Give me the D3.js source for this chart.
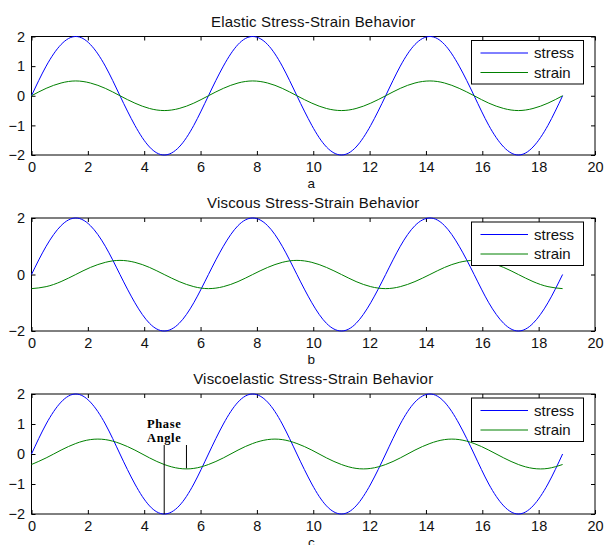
<!DOCTYPE html>
<meta charset="utf-8">
<style>
body { margin: 0; background: #fff; }
svg { font-family: "Liberation Sans", Arial, sans-serif; }
.title { font-size: 15px; fill: #111; letter-spacing: 0.2px; }
.caption { font-size: 13.5px; fill: #111; }
.tick text { font-size: 14.5px; fill: #111; font-family: "Liberation Sans", Arial, sans-serif; }
.tick line { stroke: #000; }
.frame { fill: none; stroke: #000; stroke-width: 1px; }
.legend rect { fill: #fff; stroke: #000; }
.legend text { font-size: 15px; fill: #111; }
.phase text { font-family: "Liberation Serif", "Times New Roman", serif; font-weight: bold; font-size: 12.5px; letter-spacing: 0.6px; }
</style>
<body>
<script src="https://cdn.jsdelivr.net/npm/d3@7"></script>
<script>
// sample times
var t = [0, 0.52, 1.05, 1.57, 2.09, 2.62, 3.14, 3.67, 4.19, 4.71, 5.24, 5.76,
  6.28, 6.81, 7.33, 7.85, 8.38, 8.9, 9.42, 9.95, 10.47, 11.0, 11.52, 12.04,
  12.57, 13.09, 13.61, 14.14, 14.66, 15.18, 15.71, 16.23, 16.76, 17.28, 17.8, 18.33,
  18.85];

var stress = [0, 1, 1.73, 2, 1.73, 1, 0, -1, -1.73, -2, -1.73, -1,
  0, 1, 1.73, 2, 1.73, 1, 0, -1, -1.73, -2, -1.73, -1,
  0, 1, 1.73, 2, 1.73, 1, 0, -1, -1.73, -2, -1.73, -1,
  0];

var strainElastic = [0, 0.25, 0.43, 0.5, 0.43, 0.25, 0, -0.25, -0.43, -0.5, -0.43, -0.25,
  0, 0.25, 0.43, 0.5, 0.43, 0.25, 0, -0.25, -0.43, -0.5, -0.43, -0.25,
  0, 0.25, 0.43, 0.5, 0.43, 0.25, 0, -0.25, -0.43, -0.5, -0.43, -0.25,
  0];

var strainViscous = [-0.5, -0.43, -0.25, 0, 0.25, 0.43, 0.5, 0.43, 0.25, 0, -0.25, -0.43,
  -0.5, -0.43, -0.25, 0, 0.25, 0.43, 0.5, 0.43, 0.25, 0, -0.25, -0.43,
  -0.5, -0.43, -0.25, 0, 0.25, 0.43, 0.5, 0.43, 0.25, 0, -0.25, -0.43,
  -0.5];

var strainVisco = [-0.35, -0.13, 0.13, 0.35, 0.48, 0.48, 0.35, 0.13, -0.13, -0.35, -0.48, -0.48,
  -0.35, -0.13, 0.13, 0.35, 0.48, 0.48, 0.35, 0.13, -0.13, -0.35, -0.48, -0.48,
  -0.35, -0.13, 0.13, 0.35, 0.48, 0.48, 0.35, 0.13, -0.13, -0.35, -0.48, -0.48,
  -0.35];

var titles = ["Elastic Stress-Strain Behavior", "Viscous Stress-Strain Behavior", "Viscoelastic Stress-Strain Behavior"];
var captions = ["a", "b", "c"];
var seriesNames = ["stress", "strain"];
var xTicks = [0, 2, 4, 6, 8, 10, 12, 14, 16, 18, 20];
var yTicksFull = [-2, -1, 0, 1, 2];
var yTicksSparse = [-2, 0, 2];

// phase angle markers on panel c: [x, yFrom, yTo]
var phaseLines = [[4.71, -2, 0.3], [5.5, -0.48, 0.3]];

var panels = [
  {top: 36.5, bottom: 155, strain: strainElastic, yTicks: yTicksFull},
  {top: 218, bottom: 331, strain: strainViscous, yTicks: yTicksSparse},
  {top: 394, bottom: 514, strain: strainVisco, yTicks: yTicksFull}
];

var colors = ["#0000ff", "#008000"];
var W = 613, H = 545;
var left = 31.5, right = 595;

var svg = d3.select("body").append("svg")
    .attr("width", W)
    .attr("height", H);

var x = d3.scaleLinear().domain([0, 20]).range([left, right]);

var line = d3.line().curve(d3.curveNatural);

panels.forEach(function(p, i) {
  var y = d3.scaleLinear().domain([-2, 2]).range([p.bottom, p.top]);
  var g = svg.append("g");

  g.append("text")
      .attr("class", "title")
      .attr("x", (left + right) / 2)
      .attr("y", p.top - 10)
      .attr("text-anchor", "middle")
      .text(titles[i]);

  // axes, MATLAB style inward ticks on all four sides
  g.append("g")
      .attr("transform", "translate(0," + p.bottom + ")")
      .call(d3.axisBottom(x).tickValues(xTicks).tickSize(-4).tickPadding(6.5).tickFormat(d3.format("d")))
      .call(function(a) { a.select(".domain").remove(); });
  g.append("g")
      .attr("transform", "translate(0," + p.top + ")")
      .call(d3.axisTop(x).tickValues(xTicks).tickSize(-4).tickFormat(""))
      .call(function(a) { a.select(".domain").remove(); });
  g.append("g")
      .attr("transform", "translate(" + left + ",0)")
      .call(d3.axisLeft(y).tickValues(p.yTicks).tickSize(-4).tickPadding(6.5).tickFormat(d3.format("d")))
      .call(function(a) { a.select(".domain").remove(); });
  g.append("g")
      .attr("transform", "translate(" + right + ",0)")
      .call(d3.axisRight(y).tickValues(p.yTicks).tickSize(-4).tickFormat(""))
      .call(function(a) { a.select(".domain").remove(); });

  g.append("rect")
      .attr("class", "frame")
      .attr("x", left).attr("y", p.top)
      .attr("width", right - left).attr("height", p.bottom - p.top);

  g.append("text")
      .attr("class", "caption")
      .attr("x", (left + right) / 2 - 2)
      .attr("y", p.bottom + 33)
      .attr("text-anchor", "middle")
      .text(captions[i]);

  [stress, p.strain].forEach(function(vals, k) {
    g.append("path")
        .attr("fill", "none")
        .attr("stroke", colors[k])
        .attr("stroke-width", 1)
        .attr("d", line(t.map(function(tt, j) { return [x(tt), y(vals[j])]; })));
  });

  if (i === 2) {
    var ph = g.append("g").attr("class", "phase");
    ph.selectAll("line")
        .data(phaseLines)
      .enter().append("line")
        .attr("x1", function(d) { return x(d[0]); })
        .attr("x2", function(d) { return x(d[0]); })
        .attr("y1", function(d) { return y(d[1]); })
        .attr("y2", function(d) { return y(d[2]); })
        .attr("stroke", "#000")
        .attr("stroke-width", 1);
    ph.append("text")
        .attr("x", x(4.71))
        .attr("y", y(0.3) - 17)
        .attr("text-anchor", "middle")
        .text("Phase");
    ph.append("text")
        .attr("x", x(4.71))
        .attr("y", y(0.3) - 3)
        .attr("text-anchor", "middle")
        .text("Angle");
  }

  // legend
  var lg = g.append("g")
      .attr("class", "legend")
      .attr("transform", "translate(471.5," + (p.top + 4) + ")");
  lg.append("rect")
      .attr("width", 112)
      .attr("height", 43.5);
  seriesNames.forEach(function(name, k) {
    var ry = 12.5 + k * 19.5;
    lg.append("line")
        .attr("x1", 9).attr("x2", 56.5)
        .attr("y1", ry).attr("y2", ry)
        .attr("stroke", colors[k]);
    lg.append("text")
        .attr("x", 62.5)
        .attr("y", ry)
        .attr("dy", "0.35em")
        .text(name);
  });
});
</script>
</body>
